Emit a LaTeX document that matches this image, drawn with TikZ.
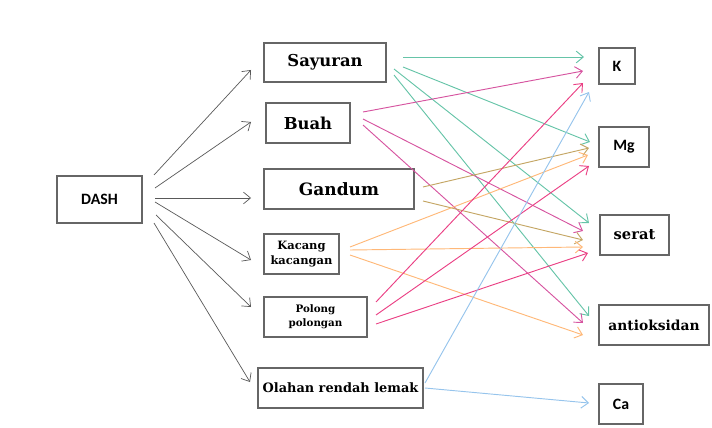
\documentclass[tikz,border=0pt]{standalone}
\usepackage{fontspec}
\setmainfont{DejaVu Serif}
\newfontfamily\carlito{Carlito}
\usetikzlibrary{arrows.meta,calc}

\definecolor{hijau}{RGB}{102,196,168}
\definecolor{ungu}{RGB}{214,84,160}
\definecolor{zaitun}{RGB}{196,166,100}
\definecolor{jingga}{RGB}{255,184,120}
\definecolor{merah}{RGB}{234,64,132}
\definecolor{biru}{RGB}{150,196,236}

\tikzset{
  kotak/.style={draw=black!60, line width=1pt, inner sep=0pt, outer sep=0pt,
    align=center, font=\bfseries},
  panah/.style={-{Straight Barb[length=6pt,width=10pt]}, line width=0.8pt},
}

\begin{document}
\begin{tikzpicture}[x=0.03cm, y=-0.03cm]
        \useasboundingbox (0,0) rectangle (712,427);

        % Kotak kiri
        \node[kotak, minimum width=2.55cm, minimum height=1.41cm, font=\carlito\bfseries\fontsize{13.5}{15}\selectfont] (dash) at (99.5,199.5) {DASH};

        % Kelompok makanan
        \node[kotak, minimum width=3.66cm, minimum height=1.17cm, font=\bfseries\fontsize{14}{16}\selectfont] (sayuran) at (325,62.5) {Sayuran};
        \node[kotak, minimum width=2.52cm, minimum height=1.2cm, font=\bfseries\fontsize{14}{16}\selectfont] (buah) at (308,123) {Buah};
        \node[kotak, minimum width=4.5cm, minimum height=1.2cm, font=\bfseries\fontsize{14.5}{16}\selectfont] (gandum) at (339,189) {Gandum};
        \node[kotak, minimum width=2.25cm, minimum height=1.2cm, font=\bfseries\fontsize{9.8}{13}\selectfont] (kacang) at (301.5,254) {Kacang\\kacangan};
        \node[kotak, minimum width=3.09cm, minimum height=1.2cm, font=\bfseries\fontsize{8.8}{12}\selectfont] (polong) at (315.5,317) {Polong\\polongan};
        \node[kotak, minimum width=4.95cm, minimum height=1.2cm, font=\bfseries\fontsize{11}{13}\selectfont] (olahan) at (340.5,388) {Olahan rendah lemak};

        % Zat gizi
        \node[kotak, minimum width=1.08cm, minimum height=1.08cm, font=\carlito\bfseries\fontsize{13.5}{14}\selectfont] (k) at (617,66) {K};
        \node[kotak, minimum width=1.5cm, minimum height=1.2cm, font=\carlito\bfseries\fontsize{13.5}{14}\selectfont] (mg) at (624,147) {Mg};
        \node[kotak, minimum width=2.07cm, minimum height=1.2cm, font=\bfseries\fontsize{12.5}{14}\selectfont] (serat) at (634.5,235) {serat};
        \node[kotak, minimum width=3.3cm, minimum height=1.2cm, font=\bfseries\fontsize{11.8}{14}\selectfont] (antioksidan) at (654,325) {antioksidan};
        \node[kotak, minimum width=1.32cm, minimum height=1.2cm, font=\carlito\bfseries\fontsize{13.5}{14}\selectfont] (ca) at (621,404) {Ca};

        % Panah dari DASH
        \draw[panah, black!65, line width=0.6pt] ($(dash.east)+(12,-24.5)$) -- ($(sayuran.west)+(-13,7.5)$);
        \draw[panah, black!65, line width=0.6pt] ($(dash.east)+(13,-11.5)$) -- ($(buah.west)+(-15,-1)$);
        \draw[panah, black!65, line width=0.6pt] ($(dash.east)+(13,-1.5)$) -- ($(gandum.west)+(-13,9)$);
        \draw[panah, black!65, line width=0.6pt] ($(dash.east)+(13,2.5)$) -- ($(kacang.west)+(-13,6)$);
        \draw[panah, black!65, line width=0.6pt] ($(dash.east)+(14,15.5)$) -- ($(polong.west)+(-13,-10)$);
        \draw[panah, black!65, line width=0.6pt] ($(dash.east)+(12,23.5)$) -- ($(olahan.west)+(-8,-6)$);

        % Sayuran
        \draw[panah, hijau] ($(sayuran.east)+(17,-5.5)$) -- ($(k.west)+(-15,-9)$);
        \draw[panah, hijau] ($(sayuran.east)+(17,4.5)$) -- ($(mg.west)+(-9,-5)$);
        \draw[panah, hijau] ($(sayuran.east)+(8,6.5)$) -- ($(serat.west)+(-11,-12)$);
        \draw[panah, hijau] ($(sayuran.east)+(8,12.5)$) -- ($(antioksidan.west)+(-10,-9)$);

        % Buah
        \draw[panah, ungu] ($(buah.east)+(13,-11)$) -- ($(k.west)+(-16,5)$);
        \draw[panah, ungu] ($(buah.east)+(13,-4)$) -- ($(serat.west)+(-17,-4)$);
        \draw[panah, ungu] ($(buah.east)+(13,2)$) -- ($(antioksidan.west)+(-16,-2)$);

        % Gandum
        \draw[panah, zaitun] ($(gandum.east)+(9,-2)$) -- ($(mg.west)+(-10,1)$);
        \draw[panah, zaitun] ($(gandum.east)+(9,12)$) -- ($(serat.west)+(-17,5)$);

        % Kacang kacangan
        \draw[panah, jingga] ($(kacang.east)+(11,-7)$) -- ($(mg.west)+(-11,8)$);
        \draw[panah, jingga] ($(kacang.east)+(11,-4)$) -- ($(serat.west)+(-17,12)$);
        \draw[panah, jingga] ($(kacang.east)+(11,1)$) -- ($(antioksidan.west)+(-16,10)$);

        % Polong polongan
        \draw[panah, merah] ($(polong.east)+(9,-15)$) -- ($(k.west)+(-16,17)$);
        \draw[panah, merah] ($(polong.east)+(9,-2)$) -- ($(mg.west)+(-10,19)$);
        \draw[panah, merah] ($(polong.east)+(9,7)$) -- ($(serat.west)+(-12,18)$);

        % Olahan rendah lemak
        \draw[panah, biru] ($(olahan.east)+(2,-5)$) -- ($(k.west)+(-10,26)$);
        \draw[panah, biru] ($(olahan.east)+(2,0)$) -- ($(ca.west)+(-10,-1)$);
    \end{tikzpicture}
\end{document}
